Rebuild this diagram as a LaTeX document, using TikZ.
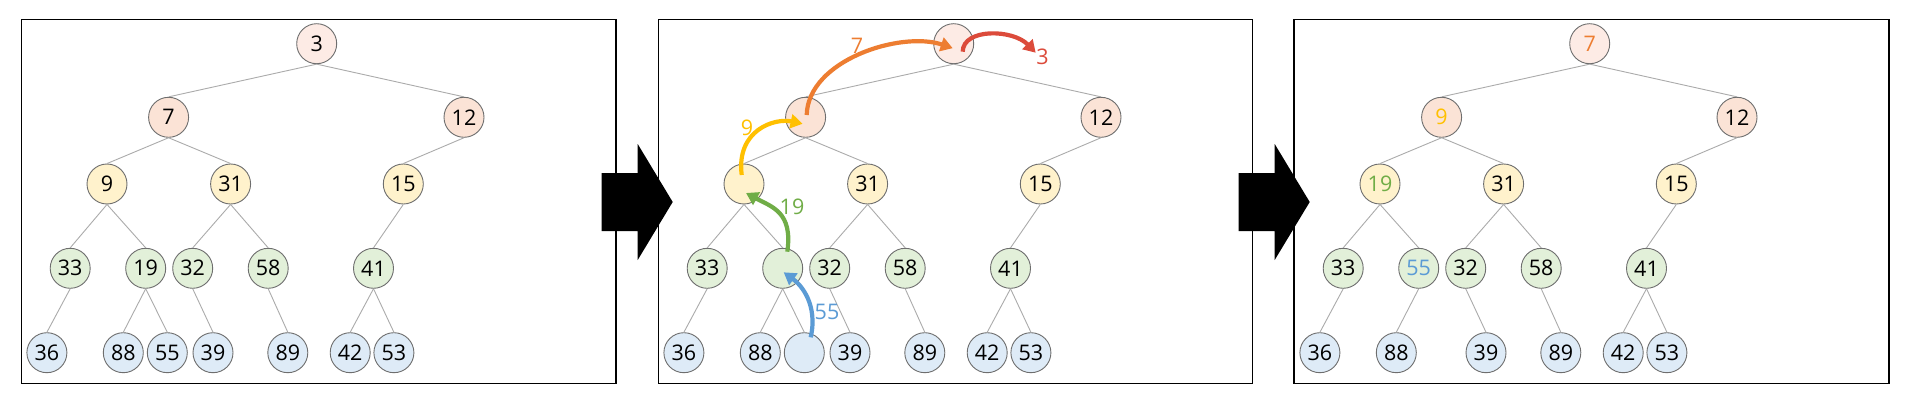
\documentclass[tikz,border=0pt]{standalone}
\usepackage{fontspec}
\setmainfont{Open Sans}
\usetikzlibrary{arrows.meta}
\definecolor{fz}{HTML}{FDEBE5}
\definecolor{fa}{HTML}{FBE3D6}
\definecolor{fb}{HTML}{FFF2CC}
\definecolor{fc}{HTML}{E2F0D9}
\definecolor{fd}{HTML}{DEEBF7}
\definecolor{ndraw}{HTML}{6E6E6E}
\definecolor{edgec}{HTML}{ABABAB}
\definecolor{cred}{HTML}{DC4B3B}
\definecolor{corange}{HTML}{ED7D31}
\definecolor{cyellow}{HTML}{FFC000}
\definecolor{cgreen}{HTML}{70AD47}
\definecolor{cblue}{HTML}{5B9BD5}
\begin{document}
\begin{tikzpicture}[x=1pt,y=-1pt,
  hn/.style={circle,draw=ndraw,line width=0.9pt,minimum size=40pt,inner sep=0pt,font=\fontsize{21.5}{24}\selectfont},
  lz/.style={hn,fill=fz}, la/.style={hn,fill=fa}, lb/.style={hn,fill=fb},
  lc/.style={hn,fill=fc}, ld/.style={hn,fill=fd},
  tedge/.style={draw=edgec,line width=0.9pt},
  panel/.style={draw=black,line width=1.2pt},
  mv/.style={line width=4.2pt,-{Triangle[length=12pt,width=14pt]}},
  lbl/.style={font=\fontsize{21.5}{24}\selectfont,inner sep=0pt}]
\useasboundingbox (0,0) rectangle (1910,401);
\fill[white] (0,0) rectangle (1910,401);
% panels
\draw[panel] (21.2,19.3) rectangle (616,383.3);
\draw[panel] (658.3,19.3) rectangle (1252.7,383.3);
\draw[panel] (1294,19.3) rectangle (1889,383.3);
% panel 1
\begin{scope}
\node[lz] (ar) at (316.7,43.7) {3};
\node[la] (aL) at (168.6,117.3) {7};
\node[la] (aR) at (464,117.3) {12};
\node[lb] (aLL) at (107,184) {9};
\node[lb] (aLR) at (230.6,184) {31};
\node[lb] (aRL) at (403.3,184) {15};
\node[lc] (aLLL) at (70.2,268.3) {33};
\node[lc] (aLLR) at (145.7,268.3) {19};
\node[lc] (aLRL) at (192.7,268.3) {32};
\node[lc] (aLRR) at (268.2,268.3) {58};
\node[lc] (aRLL) at (373.5,268.3) {41};
\node[ld] (aLLLL) at (46.9,352.7) {36};
\node[ld] (aLLRL) at (123.3,352.7) {88};
\node[ld] (aLLRR) at (167.3,352.7) {55};
\node[ld] (aLRLR) at (213,352.7) {39};
\node[ld] (aLRRR) at (287.8,352.7) {89};
\node[ld] (aRLLL) at (350.2,352.7) {42};
\node[ld] (aRLLR) at (393.9,352.7) {53};
\end{scope}
% panel 2
\begin{scope}[xshift=637pt]
\node[lz] (br) at (316.7,43.7) {};
\node[la] (bL) at (168.6,117.3) {};
\node[la] (bR) at (464,117.3) {12};
\node[lb] (bLL) at (107,184) {};
\node[lb] (bLR) at (230.6,184) {31};
\node[lb] (bRL) at (403.3,184) {15};
\node[lc] (bLLL) at (70.2,268.3) {33};
\node[lc] (bLLR) at (145.7,268.3) {};
\node[lc] (bLRL) at (192.7,268.3) {32};
\node[lc] (bLRR) at (268.2,268.3) {58};
\node[lc] (bRLL) at (373.5,268.3) {41};
\node[ld] (bLLLL) at (46.9,352.7) {36};
\node[ld] (bLLRL) at (123.3,352.7) {88};
\node[ld] (bLLRR) at (167.3,352.7) {};
\node[ld] (bLRLR) at (213,352.7) {39};
\node[ld] (bLRRR) at (287.8,352.7) {89};
\node[ld] (bRLLL) at (350.2,352.7) {42};
\node[ld] (bRLLR) at (393.9,352.7) {53};
\end{scope}
% panel 3
\begin{scope}[xshift=1273pt]
\node[lz,text=corange] (cr) at (316.7,43.7) {7};
\node[la,text=cyellow] (cL) at (168.6,117.3) {9};
\node[la] (cR) at (464,117.3) {12};
\node[lb,text=cgreen] (cLL) at (107,184) {19};
\node[lb] (cLR) at (230.6,184) {31};
\node[lb] (cRL) at (403.3,184) {15};
\node[lc] (cLLL) at (70.2,268.3) {33};
\node[lc,text=cblue] (cLLR) at (145.7,268.3) {55};
\node[lc] (cLRL) at (192.7,268.3) {32};
\node[lc] (cLRR) at (268.2,268.3) {58};
\node[lc] (cRLL) at (373.5,268.3) {41};
\node[ld] (cLLLL) at (46.9,352.7) {36};
\node[ld] (cLLRL) at (123.3,352.7) {88};
\node[ld] (cLRLR) at (213,352.7) {39};
\node[ld] (cLRRR) at (287.8,352.7) {89};
\node[ld] (cRLLL) at (350.2,352.7) {42};
\node[ld] (cRLLR) at (393.9,352.7) {53};
\end{scope}
% tree edges
\foreach \t in {a,b,c}{
  \foreach \u/\v in {r/L,r/R,L/LL,L/LR,R/RL,LL/LLL,LL/LLR,LR/LRL,LR/LRR,RL/RLL,LLL/LLLL,LLR/LLRL,LRL/LRLR,LRR/LRRR,RLL/RLLL,RLL/RLLR}{
    \draw[tedge] (\t\u.south) -- (\t\v.north);
  }
}
\draw[tedge] (aLLR.south) -- (aLLRR.north);
\draw[tedge] (bLLR.south) -- (bLLRR.north);
% block arrows
\fill[black] (601.7,173) -- (637.7,173) -- (637.7,144) -- (672.7,202) -- (637.7,260) -- (637.7,231) -- (601.7,231) -- cycle;
\fill[black] (1238.7,173) -- (1274.7,173) -- (1274.7,144) -- (1309.7,202) -- (1274.7,260) -- (1274.7,231) -- (1238.7,231) -- cycle;
% moving arrows in panel 2
\coordinate (redend) at ([shift={(82,9)}]br.center);
\draw[mv,cred] ([shift={(9,8)}]br.center) .. controls +(0.3,-23.7) and +(-23,-23.7) .. (redend);
\node[lbl,text=cred] (lred) at (1042.5,57) {3};
\draw[mv,corange] ([shift={(1.1,-2.3)}]bL.center) .. controls +(1.3,-55) and +(-51.7,-17.5) .. ([shift={(-1,4.5)}]br.center);
\node[lbl,text=corange] (lorange) at (857,46) {7};
\draw[mv,cyellow] ([shift={(-2.3,-9)}]bLL.center) .. controls +(-5.7,-45) and +(-28,-6) .. ([shift={(-3,6.5)}]bL.center);
\node[lbl,text=cyellow] (lyellow) at (747,128.3) {9};
\draw[mv,cgreen] ([shift={(4.6,-16.6)}]bLLR.center) .. controls +(5.7,-39.7) and +(26,14) .. ([shift={(2,9)}]bLL.center);
\node[lbl,text=cgreen] (lgreen) at (792,206.5) {19};
\draw[mv,cblue] ([shift={(6.4,-15.4)}]bLLRR.center) .. controls +(7.3,-32.3) and +(18,13) .. ([shift={(1,4)}]bLLR.center);
\node[lbl,text=cblue] (lblue) at (827,311.7) {55};
\end{tikzpicture}
\end{document}
